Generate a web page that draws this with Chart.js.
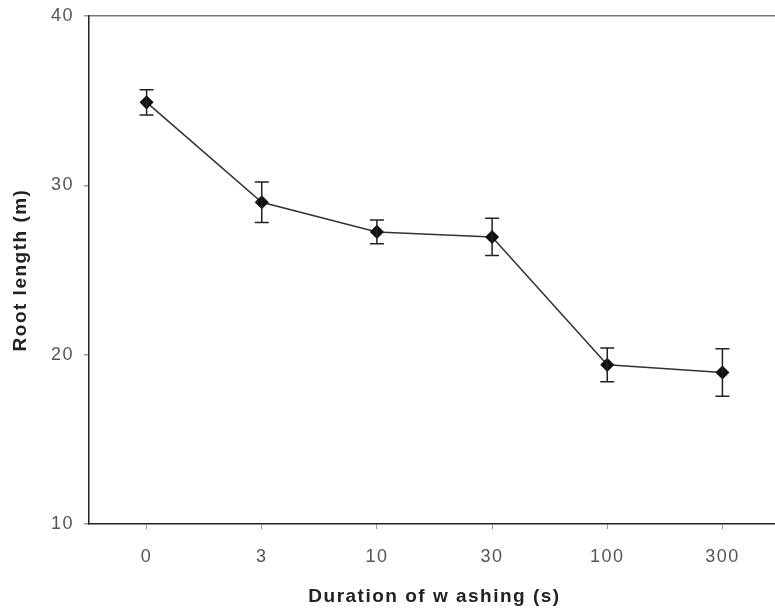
<!DOCTYPE html>
<html>
<head>
<meta charset="utf-8">
<script src="https://cdn.jsdelivr.net/npm/chart.js@4/dist/chart.umd.min.js"></script>
<style>
    html, body { margin: 0; padding: 0; background: #fff; overflow: hidden; }
    #wrap { width: 788px; height: 612px; }
</style>
</head>
<body>
<div id="wrap"><canvas id="rootChart" width="788" height="612"></canvas></div>
<script>
const durations = ['0', '3', '10', '30', '100', '300'];
const rootLength = [34.9, 29.0, 27.25, 26.95, 19.4, 18.95];
const rootError = [0.75, 1.2, 0.7, 1.1, 1.0, 1.4];
const yTicks = [10, 20, 30, 40];

// the original lettering is widely spaced; canvas resizing resets it, so set it per pass
const spacedText = {
    id: 'spacedText',
    beforeUpdate(chart) { chart.ctx.letterSpacing = '1.5px'; },
    beforeDraw(chart) { chart.ctx.letterSpacing = '1.5px'; }
};

// draws the vertical error bars with caps, using the chart's own scales
const errorBars = {
    id: 'errorBars',
    afterDatasetsDraw(chart) {
        const ctx = chart.ctx;
        const xs = chart.scales.x;
        const ys = chart.scales.y;
        ctx.save();
        ctx.strokeStyle = '#222';
        ctx.lineWidth = 1.5;
        for (let i = 0; i < rootLength.length; i++) {
            const x = xs.getPixelForValue(i);
            const top = ys.getPixelForValue(rootLength[i] + rootError[i]);
            const bot = ys.getPixelForValue(rootLength[i] - rootError[i]);
            ctx.beginPath();
            ctx.moveTo(x, top); ctx.lineTo(x, bot);
            ctx.moveTo(x - 7, top); ctx.lineTo(x + 7, top);
            ctx.moveTo(x - 7, bot); ctx.lineTo(x + 7, bot);
            ctx.stroke();
        }
        ctx.restore();
    }
};

function loadChart() {
    const ctx = document.getElementById('rootChart').getContext('2d');
    new Chart(ctx, {
        type: 'line',
        data: {
            labels: durations,
            datasets: [{
                data: rootLength,
                borderColor: '#333',
                borderWidth: 1.5,
                pointStyle: 'rectRot',
                pointRadius: 6,
                pointBackgroundColor: '#111',
                pointBorderColor: '#111',
                tension: 0
            }]
        },
        options: {
            responsive: false,
            animation: false,
            layout: { padding: { top: 16, right: 8, left: 0, bottom: 0 } },
            plugins: { legend: { display: false }, tooltip: { enabled: false } },
            scales: {
                x: {
                    offset: true,
                    grid: { display: true, drawOnChartArea: false, tickLength: 5, tickColor: '#999', offset: false },
                    border: { color: '#222', width: 1.5 },
                    ticks: { color: '#555', font: { family: 'Liberation Sans', size: 18 }, padding: 17, maxRotation: 0 },
                    title: {
                        display: true,
                        text: 'Duration of w ashing (s)',
                        color: '#222',
                        font: { family: 'Liberation Sans', size: 19, weight: 'bold' },
                        padding: { top: 6, bottom: 4 }
                    },
                    afterFit(scale) { scale.height = 88; }
                },
                y: {
                    min: 10,
                    max: 40,
                    afterBuildTicks(scale) { scale.ticks = yTicks.map(v => ({ value: v })); },
                    grid: {
                        color: c => (c.tick && c.tick.value === 40) ? '#777' : 'rgba(0,0,0,0)',
                        lineWidth: 1.5,
                        tickColor: '#999',
                        tickLength: 5
                    },
                    border: { color: '#222', width: 1.5 },
                    ticks: { color: '#555', font: { family: 'Liberation Sans', size: 18 }, padding: 10 },
                    title: {
                        display: true,
                        text: 'Root length (m)',
                        color: '#222',
                        font: { family: 'Liberation Sans', size: 19, weight: 'bold' },
                        padding: { top: 9, bottom: 4 }
                    },
                    afterFit(scale) {
                        scale.width = 89;
                        scale.paddingTop = 0;
                    }
                }
            }
        },
        plugins: [spacedText, errorBars]
    });
}

loadChart();
</script>
</body>
</html>
